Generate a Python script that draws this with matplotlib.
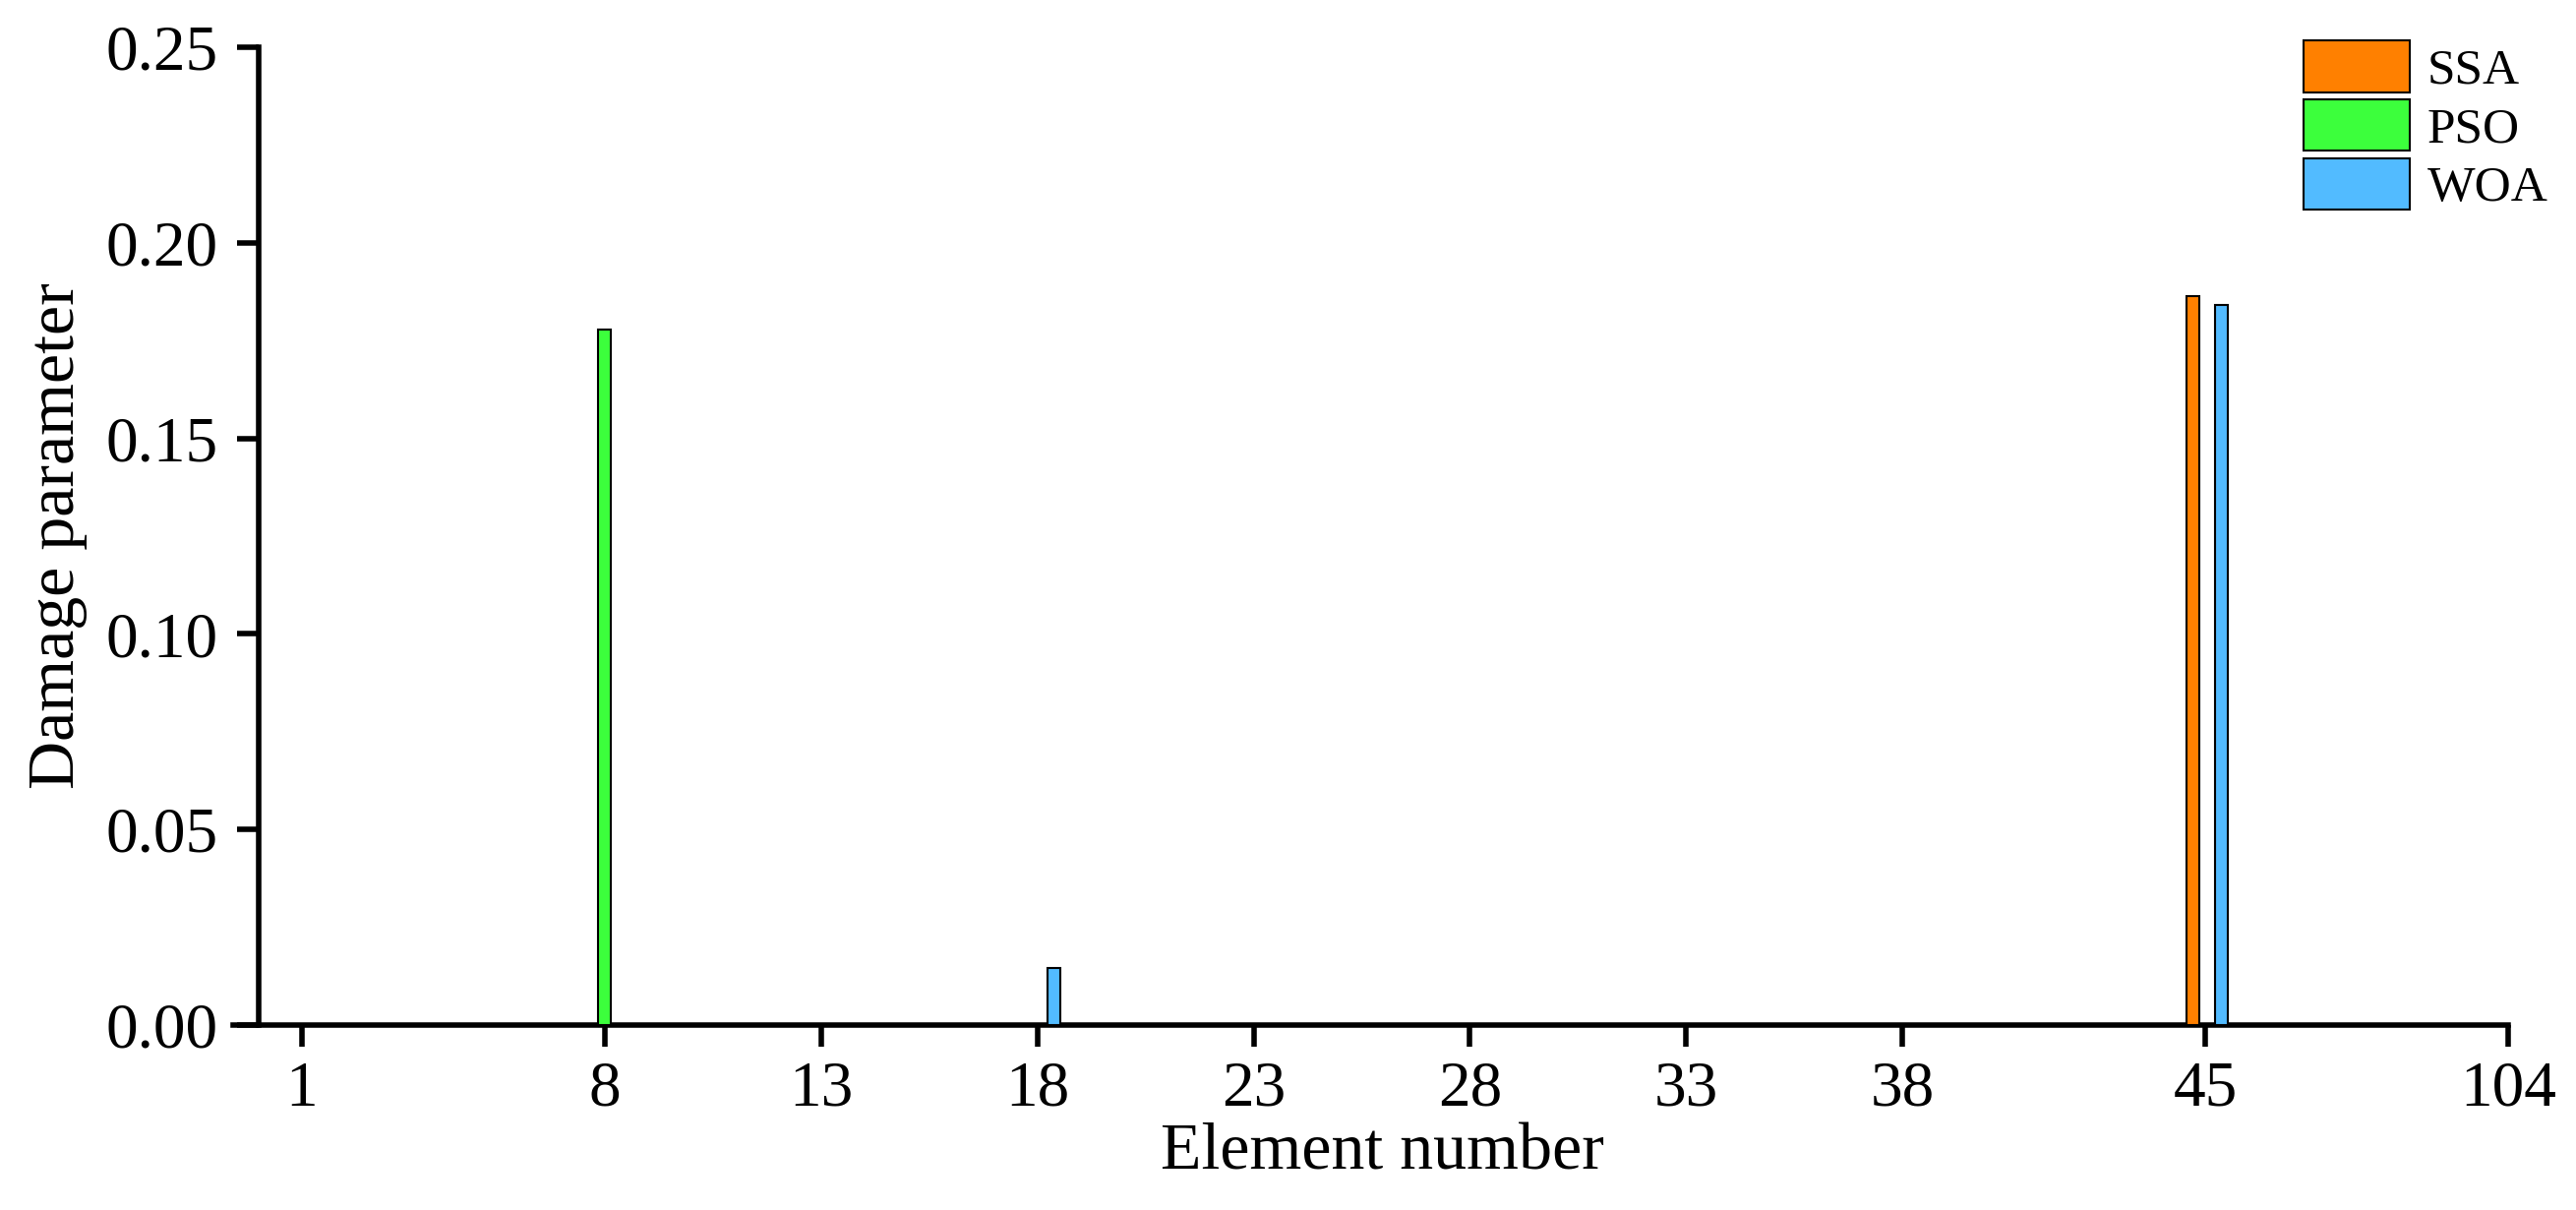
import numpy as np
import matplotlib
matplotlib.use("Agg")
import matplotlib.pyplot as plt

# element positions on the axis and their labels
tick_pos = [1, 8, 13, 18, 23, 28, 33, 38, 45, 52]
tick_labels = ["1", "8", "13", "18", "23", "28", "33", "38", "45", "104"]

# identified damage per algorithm (element position -> damage)
ssa_elem = [45]
ssa_val = [0.1864]
pso_elem = [8]
pso_val = [0.1778]
woa_elem = [18, 45]
woa_val = [0.0146, 0.1841]

series = [
    ("SSA", ssa_elem, ssa_val, "#FF8000", -0.28),
    ("PSO", pso_elem, pso_val, "#3CFF3C", 0.0),
    ("WOA", woa_elem, woa_val, "#52BBFF", 0.38),
]

plt.rcParams["font.family"] = ["Liberation Serif", "DejaVu Serif"]

fig = plt.figure(figsize=(26.19, 12.30), dpi=100)
ax = fig.add_axes([237 / 2619, 1 - 1042 / 1230, (2550 - 237) / 2619, (1042 - 48) / 1230])

for name, elems, vals, color, off in series:
    ax.bar(np.array(elems) + off, vals, width=0.3, color=color,
           edgecolor="black", linewidth=1.5, label=name, zorder=3)

ax.set_xlim(-0.59, 52)
ax.set_ylim(0, 0.25)
ax.set_xticks(tick_pos)
ax.set_xticklabels(tick_labels)
ax.set_yticks(np.arange(0, 0.26, 0.05))
ax.set_yticklabels(["%.2f" % v for v in np.arange(0, 0.26, 0.05)])

ax.spines["top"].set_visible(False)
ax.spines["right"].set_visible(False)
ax.spines["left"].set_position(("data", 0))
for s in ["left", "bottom"]:
    ax.spines[s].set_linewidth(4)
ax.tick_params(axis="both", direction="out", length=16, width=4, labelsize=47)
ax.tick_params(axis="x", pad=10)
ax.tick_params(axis="y", pad=14)

ax.set_xlabel("Element number", fontsize=49)
ax.set_ylabel("Damage parameter", fontsize=49)
ax.xaxis.set_label_coords(0.505, -0.100)
ax.yaxis.set_label_coords(-0.064, 0.5)

fig.legend(loc="upper left", bbox_to_anchor=(2342 / 2619, 1 - 41 / 1230),
           frameon=False, fontsize=37, handlelength=2.1, handleheight=1.2,
           labelspacing=0.1, handletextpad=0.35, borderpad=0, borderaxespad=0)

fig.savefig("out.png", dpi=100)
